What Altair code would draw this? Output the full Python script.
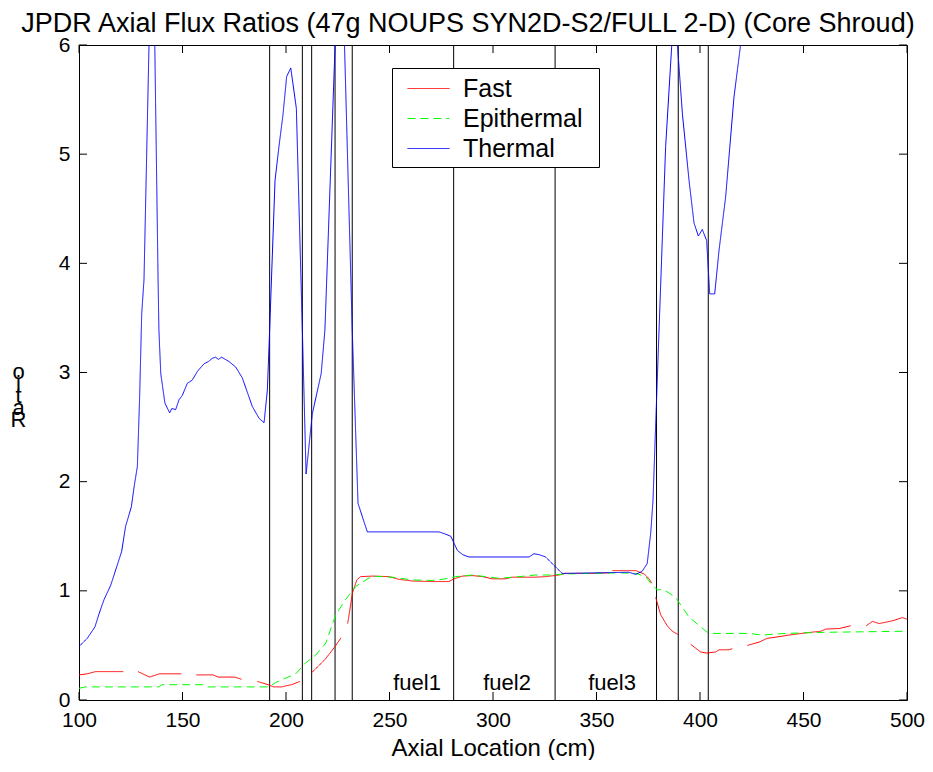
import altair as alt
import pandas as pd

FONT = "Liberation Sans"

# ---------------- data ----------------
series_names = ["Fast", "Epithermal", "Thermal"]
series_colors = ["#ff0000", "#00ff00", "#0000ff"]

fast_x = [100, 104, 108, 121.4,
          128.5, 134.1, 138.9, 149.4,
          156.7, 164.8, 167.2, 175.2, 178.5,
          186.2, 191.4, 194, 197.9, 200, 202.7, 206.7,
          212.4, 218.8, 223.7, 226.6,
          229.8, 232.1, 234.2, 236, 241.7, 249.8, 254.6, 261, 270.7, 278.7, 281.2, 285.2,
          290, 295, 299.7, 306.1, 309.3, 320.5, 325.4, 331.9, 335.1, 348, 356,
          357.7, 369, 373, 375.4, 376.7,
          378.6, 381, 384.2, 386.6, 389.4,
          395.5, 400.3, 403, 407.5, 409.2, 414, 415.6,
          422.9, 428.5, 432.5, 438.2, 443, 451.1, 458.4, 460.8, 467.3, 472.8,
          480.3, 483.3, 486.5, 492.9, 497.8, 500]
fast_y = [0.23, 0.24, 0.26, 0.26,
          0.26, 0.21, 0.24, 0.24,
          0.23, 0.23, 0.21, 0.21, 0.19,
          0.17, 0.14, 0.12, 0.12, 0.13, 0.14, 0.17,
          0.25, 0.37, 0.49, 0.57,
          0.70, 0.98, 1.10, 1.13, 1.135, 1.13, 1.105, 1.09, 1.085, 1.085, 1.11, 1.135,
          1.14, 1.13, 1.11, 1.11, 1.125, 1.125, 1.13, 1.145, 1.16, 1.16, 1.165,
          1.185, 1.185, 1.155, 1.11, 1.07,
          0.94, 0.78, 0.68, 0.63, 0.60,
          0.51, 0.44, 0.43, 0.44, 0.46, 0.46, 0.47,
          0.50, 0.53, 0.565, 0.58, 0.595, 0.615, 0.63, 0.65, 0.655, 0.68,
          0.68, 0.72, 0.70, 0.725, 0.755, 0.74]
fast_seg = [1] * 4 + [2] * 4 + [3] * 5 + [4] * 7 + [5] * 4 + [6] * 23 + [7] * 5 + [8] * 5 + [9] * 7 + [10] * 10 + [11] * 6

epi_x = [100, 103, 138.6, 140, 159.6, 162, 191.8, 195, 204.7, 209.5, 214.3, 219.2, 224, 228.8,
         233.7, 236.9, 241.7, 251.4, 261, 270.7, 275.5, 282, 290, 296.5, 302.9, 312.6, 320.6,
         328.7, 335.1, 348, 360.9, 369, 373.8, 377, 379.4, 382.6, 388.2, 394.7, 403.5, 406,
         423.6, 430, 441.3, 460, 500]
epi_y = [0.107, 0.12, 0.12, 0.14, 0.14, 0.12, 0.12, 0.16, 0.24, 0.34, 0.41, 0.52, 0.78, 0.92,
         1.04, 1.08, 1.135, 1.125, 1.10, 1.095, 1.105, 1.13, 1.145, 1.13, 1.115, 1.13, 1.145,
         1.145, 1.155, 1.16, 1.165, 1.16, 1.13, 1.05, 1.01, 1.01, 0.94, 0.76, 0.62, 0.61,
         0.61, 0.595, 0.61, 0.62, 0.63]

th_x = [100, 104, 107.7, 109.7, 112.1, 115.3, 117.7, 120.6, 122.5, 125.3, 126.6, 128.2, 129.3,
        130.3, 131.4, 135.5, 138.2, 138.6, 139.5, 141.5, 143.8, 144.8, 146.7, 148.3, 149.9,
        152.3, 154.7, 157.2, 160.4, 162.5, 164.4, 166, 167.3, 168.9, 172.5, 175.7, 178.9,
        181.3, 183.7, 187, 189.4, 191, 192.1, 194.7, 196.6, 198.6, 200.3, 202.3, 205, 207.9,
        209.7, 212.7, 217, 218.8, 226.3, 232, 234.8, 239.3, 273.9, 277, 279.6, 282.8, 285.5,
        288.4, 317.4, 319.8, 322.5, 325.4, 330.2, 333.4, 336.5, 365.7, 369, 372.1, 374.5,
        376.2, 377.3, 379.4, 383.4, 386.3, 387.7, 389.1, 391.5, 394.7, 397.1, 399.2, 401.1,
        403.2, 404.7, 407.1, 409.2, 412.4, 416.4, 419.6, 425]
th_y = [0.49, 0.565, 0.67, 0.79, 0.92, 1.05, 1.19, 1.36, 1.59, 1.77, 1.95, 2.14, 2.78,
        3.54, 3.85, 7.5, 3.85, 3.39, 2.99, 2.72, 2.63, 2.67, 2.66, 2.75, 2.79,
        2.90, 2.93, 3.01, 3.08, 3.10, 3.13, 3.14, 3.12, 3.14, 3.10, 3.05, 2.95,
        2.82, 2.69, 2.58, 2.54, 2.84, 3.39, 4.76, 5.07, 5.37, 5.71, 5.79, 5.42, 3.39,
        2.07, 2.62, 2.99, 3.39, 7.37, 3.39, 1.80, 1.54, 1.54, 1.52, 1.50, 1.37, 1.33,
        1.31, 1.31, 1.34, 1.33, 1.31, 1.22, 1.16, 1.16, 1.17, 1.15, 1.18, 1.25,
        1.53, 1.83, 2.96, 5.07, 5.98, 6.35, 6.0, 5.37, 4.76, 4.37, 4.25, 4.31,
        4.21, 3.72, 3.72, 4.12, 4.61, 5.52, 6.0, 6.9]

boundaries = [192.1, 207.9, 212.4, 223.7, 232.0, 281.0, 330.0, 379.0, 389.5, 404.0]

fuel_labels = ["fuel1", "fuel2", "fuel3"]
fuel_x = [263.3, 306.8, 357.5]
fuel_y = [0.09, 0.09, 0.09]

x_ticks = [100, 150, 200, 250, 300, 350, 400, 450, 500]
y_ticks = [0, 1, 2, 3, 4, 5, 6]

# ---------------- tables ----------------
df_lines = pd.concat([
    pd.DataFrame({"x": fast_x, "y": fast_y, "seg": fast_seg, "series": "Fast"}),
    pd.DataFrame({"x": epi_x, "y": epi_y, "seg": 0, "series": "Epithermal"}),
    pd.DataFrame({"x": th_x, "y": th_y, "seg": 0, "series": "Thermal"}),
], ignore_index=True)
df_b = pd.DataFrame({"x": boundaries})
df_fuel = pd.DataFrame({"x": fuel_x, "y": fuel_y, "label": fuel_labels})
df_xt = pd.DataFrame({"x": x_ticks})
df_yt = pd.DataFrame({"y": y_ticks})

W, H = 828, 655

xs = alt.Scale(domain=[100, 500], nice=False, zero=False)
ys = alt.Scale(domain=[0, 6], nice=False, zero=False)
xaxis = alt.Axis(values=x_ticks, title="Axial Location (cm)", format="d")
yaxis = alt.Axis(values=y_ticks, title=["o", "i", "t", "a", "R"], format="d",
                 titleAngle=0, titleX=-61, titleY=338, titleBaseline="bottom",
                 titleAlign="center", titleLineHeight=12, titleFontSize=22)

X = alt.X("x:Q", scale=xs, axis=xaxis)
Y = alt.Y("y:Q", scale=ys, axis=yaxis)

cs = alt.Scale(domain=series_names, range=series_colors)
ds = alt.Scale(domain=series_names, range=[[1, 0], [8, 5], [1, 0]])
# an invisible legend title on the right only widens the legend box
leg = alt.Legend(orient="none", legendX=313, legendY=23, title="i",
                 titleOrient="right", titleOpacity=0, titleFontSize=12,
                 titlePadding=8)

lines = alt.Chart(df_lines).mark_line(clip=True, strokeWidth=1).encode(
    x=X, y=Y,
    color=alt.Color("series:N", scale=cs, legend=leg),
    strokeDash=alt.StrokeDash("series:N", scale=ds, legend=leg),
    detail="seg:N",
)

bounds = alt.Chart(df_b).mark_rule(color="black", strokeWidth=1).encode(x=X)

fuel = alt.Chart(df_fuel).mark_text(font=FONT, fontSize=22, baseline="alphabetic",
                                    align="center", color="black").encode(
    x=X, y=Y, text="label:N")

tick_len = 8
xt_bottom = alt.Chart(df_xt).mark_rule(color="black").encode(
    x=X, y=alt.value(H), y2=alt.value(H - tick_len))
xt_top = alt.Chart(df_xt).mark_rule(color="black").encode(
    x=X, y=alt.value(0), y2=alt.value(tick_len))
yt_left = alt.Chart(df_yt).mark_rule(color="black").encode(
    y=Y, x=alt.value(0), x2=alt.value(tick_len))
yt_right = alt.Chart(df_yt).mark_rule(color="black").encode(
    y=Y, x=alt.value(W), x2=alt.value(W - tick_len))

chart = alt.layer(
    bounds, lines, fuel, xt_bottom, xt_top, yt_left, yt_right
).properties(
    width=W, height=H,
    title=alt.TitleParams(
        "JPDR Axial Flux Ratios (47g NOUPS SYN2D-S2/FULL 2-D) (Core Shroud)",
        font=FONT, fontSize=27, fontWeight="normal", color="black",
        anchor="middle", frame="group", dx=-25, dy=12, offset=8),
    autosize=alt.AutoSizeParams(type="none"),
    padding={"left": 71, "top": 37, "right": 18, "bottom": 60},
).configure_view(
    stroke="black", strokeWidth=1
).configure_axis(
    domain=False, ticks=False, tickSize=0, grid=False, labelFlush=False,
    labelFont=FONT, labelFontSize=21, labelColor="black", labelPadding=9,
    titleFont=FONT, titleFontSize=24, titleFontWeight="normal", titleColor="black",
    titlePadding=6,
).configure_legend(
    strokeColor="black", fillColor="white", padding=5, cornerRadius=0,
    symbolType="M-1.4,0H1.4", symbolSize=900, symbolStrokeWidth=1,
    symbolOffset=16, labelOffset=19, rowPadding=1,
    labelFont=FONT, labelFontSize=25, labelColor="black",
)

chart.save("out.html", embed_options={"renderer": "svg", "actions": False})
